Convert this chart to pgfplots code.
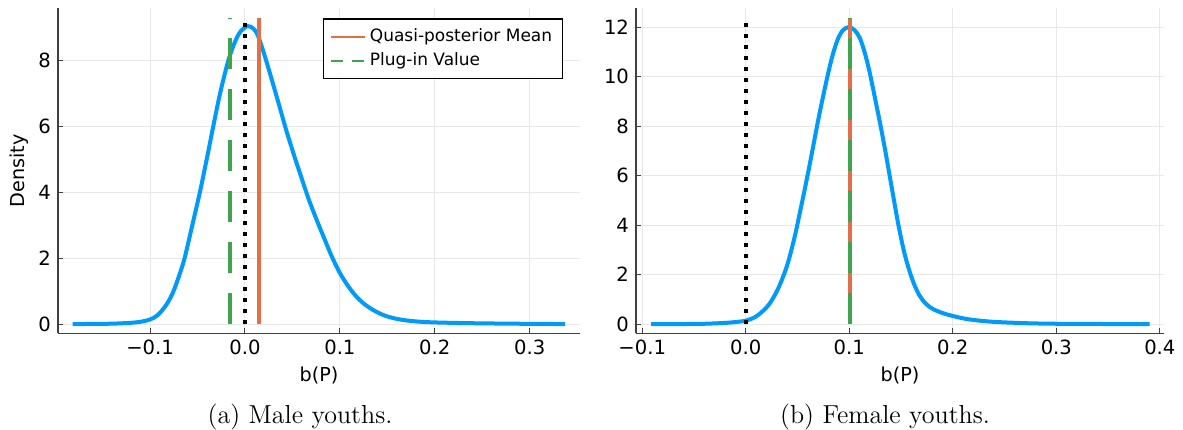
\documentclass[border=0pt]{standalone}
\usepackage{fontspec}
\newfontfamily\plotfont{DejaVu Sans}
\usepackage{pgfplots}
\pgfplotsset{compat=1.18}

\definecolor{pblue}{RGB}{0,154,250}
\definecolor{porange}{RGB}{227,111,71}
\definecolor{pgreen}{RGB}{62,164,78}

\pgfplotsset{
  juliastyle/.style={
    scale only axis,
    axis lines=left,
    axis line style={-, draw=black!75, line width=0.7pt},
    tick align=inside,
    major tick length=2.5pt,
    tick style={black!75, line width=0.5pt},
    grid=major,
    grid style={black!9, line width=0.5pt},
    /pgf/number format/assume math mode=true,
    ticklabel style={font=\fontsize{9.8}{11}\selectfont\plotfont},
    label style={font=\fontsize{9.6}{11}\selectfont\plotfont},
    xlabel={b(P)},
    xlabel style={at={(axis description cs:0.5,-0.129)}, anchor=center},
    height=162.5pt,
  },
  curve/.style={pblue, line width=2pt, line join=round, smooth, tension=0.5, forget plot},
  zeroline/.style={black, line width=2pt, line cap=butt, dash pattern=on 2pt off 3.5pt, forget plot},
  meanline/.style={porange, line width=2pt, forget plot},
  plugline/.style={pgreen, line width=2pt, line cap=butt, dash pattern=on 15.5pt off 10pt, forget plot},
}

\begin{document}
\begin{tikzpicture}
\useasboundingbox (0,0) rectangle (591.5pt,214.5pt);

% (a) male youths
\begin{axis}[juliastyle,
  at={(29pt,47.85pt)}, anchor=south west,
  width=261pt,
  xmin=-0.197, xmax=0.353,
  ymin=-0.28, ymax=9.58,
  xtick={-0.1,0,0.1,0.2,0.3},
  xticklabels={−0.1,0.0,0.1,0.2,0.3},
  ytick={0,2,4,6,8},
  ylabel={Density},
  ylabel style={at={(axis description cs:-0.0747,0.5)}, anchor=center},
  legend style={at={(0.967,0.969)}, anchor=north east, draw=black, line width=0.6pt,
    fill=white, font=\fontsize{8.5}{10}\selectfont\plotfont, inner sep=3pt, row sep=0pt,
    cells={anchor=west}},
  legend cell align=left,
  legend image code/.code={\draw[#1] (0pt,0pt) -- (17pt,0pt);},
]
\addplot[curve] coordinates {
(-0.1817,0) (-0.16,0.004) (-0.14,0.012) (-0.122,0.035) (-0.11,0.07) (-0.1,0.14)
(-0.092,0.27) (-0.083,0.58) (-0.076,0.95) (-0.069,1.5) (-0.0636,2.0)
(-0.0555,3.0) (-0.0475,4.0) (-0.0403,5.0) (-0.0334,6.0) (-0.0262,7.0)
(-0.0175,8.0) (-0.01,8.6) (-0.004,8.9) (0.003,9.04) (0.009,8.96)
(0.0137,8.75) (0.0207,8.15) (0.0295,7.29) (0.0365,6.59) (0.0435,5.88)
(0.0523,5.07) (0.0593,4.46) (0.067,3.8) (0.075,3.2) (0.0835,2.6)
(0.0915,2.05) (0.1,1.55) (0.108,1.18) (0.116,0.88) (0.124,0.65)
(0.132,0.48) (0.14,0.35) (0.148,0.25) (0.158,0.17) (0.17,0.11)
(0.185,0.07) (0.2,0.05) (0.23,0.03) (0.27,0.015) (0.31,0.005) (0.337,0)
};
\addplot[zeroline] coordinates {(0,0) (0,9.3)};
\addplot[meanline] coordinates {(0.0143,0) (0.0143,9.3)};
\addplot[plugline] coordinates {(-0.016,0) (-0.016,9.3)};
\addlegendimage{porange, line width=1pt}
\addlegendentry{Quasi-posterior Mean}
\addlegendimage{pgreen, line width=1pt, dash pattern=on 6pt off 4.5pt}
\addlegendentry{Plug-in Value}
\end{axis}

% (b) female youths
\begin{axis}[juliastyle,
  at={(318pt,47.85pt)}, anchor=south west,
  width=264pt,
  xmin=-0.106, xmax=0.404,
  ymin=-0.37, ymax=12.76,
  xtick={-0.1,0,0.1,0.2,0.3,0.4},
  xticklabels={−0.1,0.0,0.1,0.2,0.3,0.4},
  ytick={0,2,4,6,8,10,12},
]
\addplot[curve] coordinates {
(-0.0914,0) (-0.06,0.005) (-0.04,0.015) (-0.02,0.05) (-0.01,0.085) (0,0.14)
(0.0096,0.3) (0.0193,0.64) (0.0257,1.0) (0.0322,1.52) (0.0386,2.2)
(0.0434,2.88) (0.0482,3.7) (0.053,4.65) (0.0575,5.55) (0.062,6.5)
(0.0666,7.5) (0.0712,8.5) (0.076,9.45) (0.0805,10.3) (0.0848,11.0)
(0.0893,11.55) (0.094,11.88) (0.0995,12.0) (0.105,11.88) (0.1102,11.56)
(0.1147,11.0) (0.119,10.3) (0.1233,9.45) (0.1279,8.5) (0.1303,8.0)
(0.1348,7.0) (0.139,6.0) (0.1432,5.0) (0.1475,4.0) (0.1525,3.0)
(0.157,2.3) (0.162,1.68) (0.167,1.22) (0.1727,0.88) (0.18,0.63)
(0.19,0.45) (0.2,0.33) (0.2145,0.2) (0.237,0.1) (0.269,0.04)
(0.301,0.015) (0.35,0.005) (0.39,0)
};
\addplot[zeroline] coordinates {(0,0) (0,12.37)};
\addplot[meanline] coordinates {(0.101,0) (0.101,12.37)};
\addplot[plugline] coordinates {(0.101,0) (0.101,12.37)};
\end{axis}

\node[anchor=base, font=\fontsize{13}{15}\selectfont] at (150pt,3pt) {(a) Male youths.};
\node[anchor=base, font=\fontsize{13}{15}\selectfont] at (442.5pt,3pt) {(b) Female youths.};
\end{tikzpicture}
\end{document}
